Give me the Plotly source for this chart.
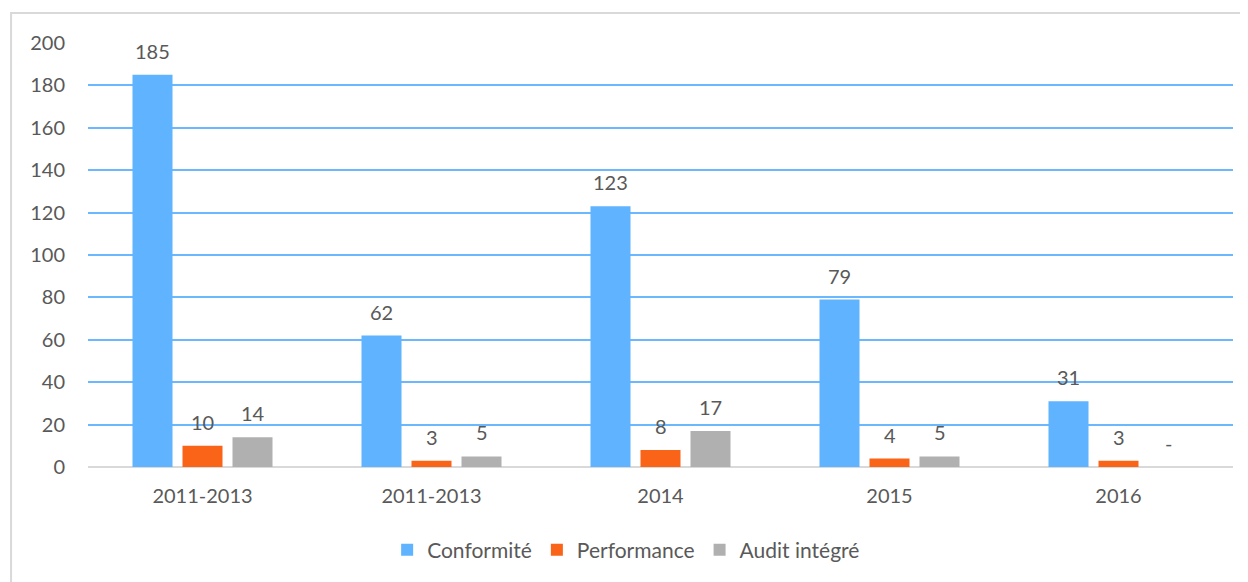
import plotly.graph_objects as go

# data
categories = ["2011-2013", "2011-2013", "2014", "2015", "2016"]
conformite = [185, 62, 123, 79, 31]
performance = [10, 3, 8, 4, 3]
audit_integre = [14, 5, 17, 5, 0]
audit_labels = ["14", "5", "17", "5", "-"]

series = [
    ("Conformité", conformite, [str(v) for v in conformite], "#5fb3ff", -50),
    ("Performance", performance, [str(v) for v in performance], "#fa6418", 0),
    ("Audit intégré", audit_integre, audit_labels, "#b0b0b0", 50),
]

FONT = "Lato, 'Open Sans', sans-serif"
TXT = "#595959"

xpos = list(range(len(categories)))

fig = go.Figure()
annotations = []
for name, vals, labels, color, dx in series:
    fig.add_trace(go.Bar(x=xpos, y=vals, name=name, marker=dict(color=color, line=dict(width=0))))
    for x, v, lab in zip(xpos, vals, labels):
        annotations.append(dict(x=x, y=v, xref="x", yref="y", text=lab, showarrow=False,
                                xshift=dx, yshift=24, yanchor="middle",
                                font=dict(family=FONT, size=20, color=TXT)))

# page body adds an 8px margin, so plot margins are shifted by that
fig.update_layout(
    width=1248, height=582,
    margin=dict(l=80, r=23, t=35, b=123),
    paper_bgcolor="white", plot_bgcolor="white",
    barmode="group", bargap=0.345, bargroupgap=0.2,
    font=dict(family=FONT, size=20, color=TXT),
    legend=dict(orientation="h", x=0.47, xanchor="center", y=-0.196, yanchor="middle",
                font=dict(family=FONT, size=21, color=TXT), itemwidth=30,
                traceorder="normal"),
    annotations=annotations,
    shapes=[dict(type="rect", xref="paper", yref="paper", x0=-0.0672, x1=1.2,
                 y0=-0.6, y1=1.0708, line=dict(color="#d9d9d9", width=2),
                 fillcolor="rgba(0,0,0,0)", layer="below")],
)
fig.update_xaxes(tickvals=xpos, ticktext=categories, range=[-0.5, 4.5],
                 showgrid=False, showline=False, zeroline=False, ticks="",
                 ticklabelstandoff=15,
                 tickfont=dict(family=FONT, size=20, color=TXT))
fig.update_yaxes(range=[0, 200], dtick=20, showgrid=True, gridcolor="#6cb8ff", gridwidth=2,
                 zeroline=True, zerolinecolor="#d9d9d9", zerolinewidth=2,
                 showline=False, ticks="", ticklabelstandoff=22,
                 tickfont=dict(family=FONT, size=20, color=TXT))

fig.write_html("out.html")
